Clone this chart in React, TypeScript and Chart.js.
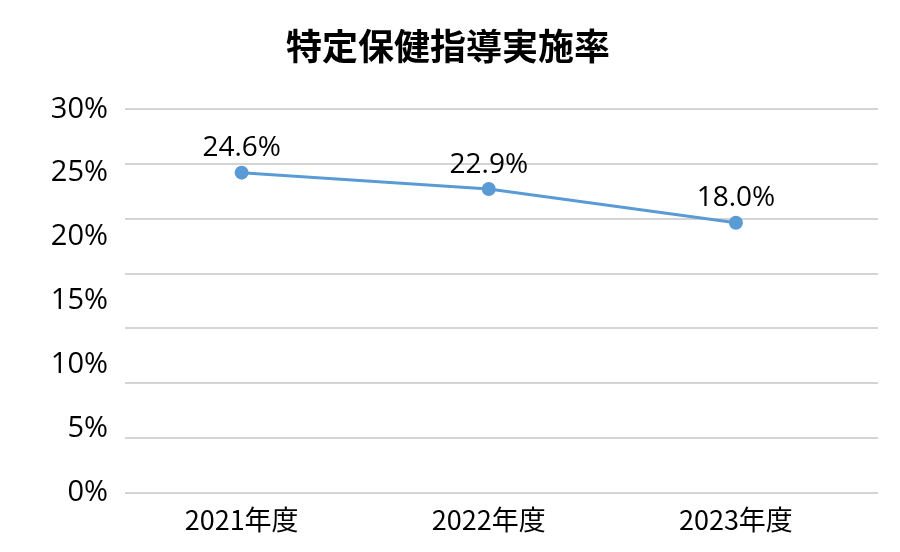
import React, { useEffect, useRef } from "react";
import { Chart, registerables } from "chart.js";

Chart.register(...registerables);

const titleText = "特定保健指導実施率";
const categories = ["2021年度", "2022年度", "2023年度"];
// point heights as drawn in the reference (on the 0–30% label scale)
const plottedValues = [25.04, 23.76, 21.12];
// value labels as printed in the reference
const valueLabels = ["24.6%", "22.9%", "18.0%"];
const yTickMax = 30;
const yTickStep = 5;
const gridMax = 35;

const LINE_COLOR = "#5b9bd5";

const dataLabelPlugin = {
  id: "dataLabels",
  afterDatasetsDraw(chart: any) {
    const meta = chart.getDatasetMeta(0);
    const ctx = chart.ctx;
    ctx.save();
    ctx.font = "28px 'Open Sans', 'Noto Sans', sans-serif";
    ctx.fillStyle = "#000000";
    ctx.textAlign = "center";
    ctx.textBaseline = "alphabetic";
    meta.data.forEach((pt: any, i: number) => {
      ctx.fillText(valueLabels[i], pt.x, pt.y - 16.5);
    });
    ctx.restore();
  },
};

export default function App() {
  const canvasRef = useRef<HTMLCanvasElement | null>(null);

  useEffect(() => {
    document.body.style.margin = "0";
    const canvas = canvasRef.current;
    if (!canvas) return;
    const chart = new Chart(canvas, {
      type: "line",
      data: {
        datasets: [
          {
            data: plottedValues.map((v, i) => ({ x: i, y: v })),
            borderColor: LINE_COLOR,
            backgroundColor: LINE_COLOR,
            borderWidth: 3,
            pointRadius: 7,
            pointHoverRadius: 7,
            pointBackgroundColor: LINE_COLOR,
            pointBorderColor: LINE_COLOR,
            pointBorderWidth: 0,
            tension: 0,
            yAxisID: "y",
            xAxisID: "x",
          },
        ],
      },
      options: {
        responsive: false,
        animation: false,
        devicePixelRatio: 1,
        layout: { padding: { top: 0, left: 0, right: 4, bottom: 5 } },
        plugins: {
          legend: { display: false },
          tooltip: { enabled: false },
          title: {
            display: true,
            text: titleText,
            color: "#000000",
            font: { size: 36, weight: "bold", family: "'Noto Sans CJK JP', sans-serif", lineHeight: 1.2 },
            padding: { top: 24.4, bottom: 41.7 },
          },
        },
        scales: {
          x: {
            type: "linear",
            min: -0.472,
            max: 2.575,
            grid: { display: false, drawTicks: false, tickLength: 0 },
            border: { display: false },
            afterBuildTicks: (axis: any) => {
              axis.ticks = categories.map((_, i) => ({ value: i }));
            },
            ticks: {
              padding: 11,
              color: "#000000",
              font: { size: 27, family: "'Noto Sans CJK JP', sans-serif", lineHeight: 1.2 },
              maxRotation: 0,
              autoSkip: false,
              callback: (v: any) => categories[Math.round(Number(v))] ?? "",
            },
          },
          y: {
            type: "linear",
            position: "left",
            min: 0,
            max: yTickMax,
            grid: { display: false, drawTicks: false },
            border: { display: false },
            afterFit: (axis: any) => {
              axis.width = 125;
            },
            ticks: {
              stepSize: yTickStep,
              padding: 17,
              color: "#000000",
              font: { size: 29, family: "'Open Sans', 'Noto Sans', sans-serif" },
              callback: (v: any) => `${v}%`,
            },
          },
          yGrid: {
            type: "linear",
            position: "right",
            min: 0,
            max: gridMax,
            grid: { display: true, color: "#d4d4d4", lineWidth: 2, drawTicks: false },
            border: { display: false },
            afterFit: (axis: any) => {
              axis.width = 18;
            },
            ticks: { stepSize: 5, display: false },
          },
        },
      },
      plugins: [dataLabelPlugin],
    } as any);
    return () => chart.destroy();
  }, []);

  return (
    <div style={{ width: 900, height: 552, background: "#ffffff" }}>
      <canvas ref={canvasRef} width={900} height={552} />
    </div>
  );
}
